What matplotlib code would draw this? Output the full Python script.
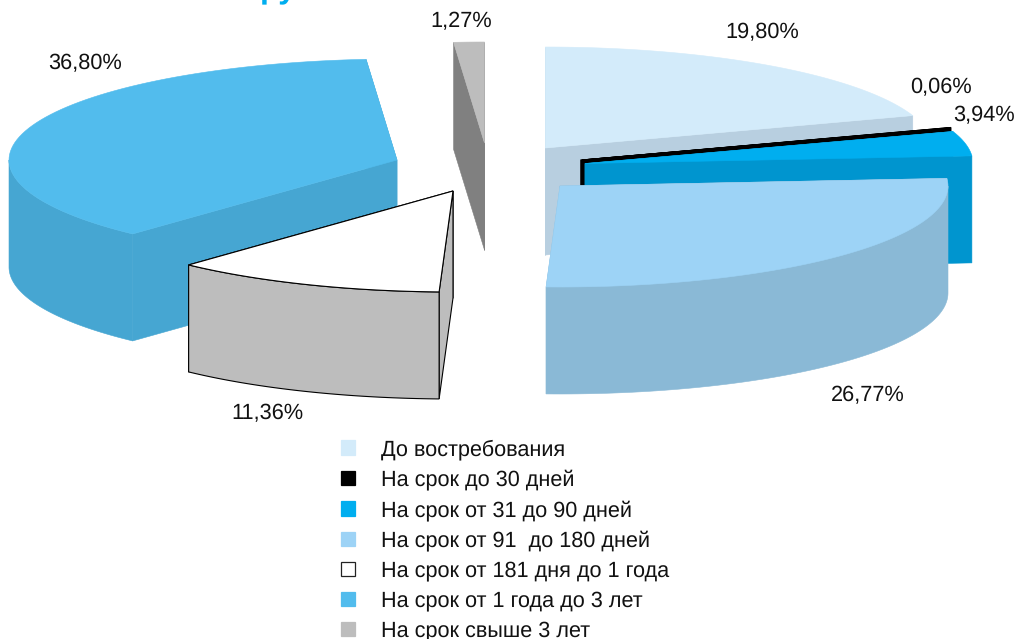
import numpy as np
import matplotlib
matplotlib.use("Agg")
import matplotlib.pyplot as plt
from matplotlib.patches import Polygon, Patch

categories = ["До востребования", "На срок до 30 дней", "На срок от 31 до 90 дней",
              "На срок от 91  до 180 дней", "На срок от 181 дня до 1 года",
              "На срок от 1 года до 3 лет", "На срок свыше 3 лет"]
shares = [19.80, 0.06, 3.94, 26.77, 11.36, 36.80, 1.27]
value_labels = ["19,80%", "0,06%", "3,94%", "26,77%", "11,36%", "36,80%", "1,27%"]

top_colors = ["#d3ebfa", "#000000", "#00aeef", "#9dd3f6", "#ffffff", "#52bced", "#bdbdbd"]
side_colors = ["#b8cfe0", "#000000", "#0095cf", "#8ab9d6", "#bdbdbd", "#46a6d2", "#808080"]
# Exploded position of every slice's apex (pixels)
apexes = [(545.3, 148), (582, 161), (585, 163.5), (560, 186), (453, 191), (397, 160), (484.5, 143)]
label_xy = [(762, 32.5), (941, 87), (984, 115), (868, 395.5), (267, 414), (85, 63.5), (461, 21.5)]
draw_order = [0, 1, 2, 3, 6, 5, 4]

RX, RY, DEPTH = 388, 101, 107
FS = 15.7
LEGEND_FS = 15.6

plt.rcParams["font.family"] = ["Liberation Sans", "DejaVu Sans"]
plt.rcParams["text.hinting"] = "none"
fig = plt.figure(figsize=(10.18, 6.39), dpi=100)
ax = fig.add_axes([0, 0, 1, 1])
ax.set_xlim(0, 1018)
ax.set_ylim(639, 0)
ax.axis("off")

angles = 90 - np.cumsum([0] + shares) * 3.6


def rim(c, t0, t1, n=80):
    t = np.radians(np.linspace(t0, t1, n))
    return np.column_stack([c[0] + RX * np.cos(t), c[1] - RY * np.sin(t)])


for i in draw_order:
    c = np.array(apexes[i], float)
    a0, a1 = angles[i], angles[i + 1]
    top = rim(c, a0, a1)
    outlined = i == 4
    black = i == 1
    ec = "black" if outlined or black else None
    lw = 0.8 if outlined else (2.2 if black else 0.4)
    down = np.array([0, DEPTH])
    # radial cut faces, the rear one first
    for pt in (top[-1], top[0]):
        quad = np.array([c, pt, pt + down, c + down])
        ax.add_patch(Polygon(quad, closed=True, fc=side_colors[i],
                             ec=ec or side_colors[i], lw=lw, joinstyle="miter"))
    # visible outer rim (front half of the ellipse only)
    lo, hi = max(a1, -180), min(a0, 0)
    if hi > lo:
        r = rim(c, hi, lo)
        ax.add_patch(Polygon(np.vstack([r, r[::-1] + down]), closed=True, fc=side_colors[i],
                             ec=ec or side_colors[i], lw=lw))
    # top surface
    ax.add_patch(Polygon(np.vstack([c, top]), closed=True, fc=top_colors[i],
                         ec=ec or top_colors[i], lw=lw,
                         joinstyle="bevel" if black else "miter"))

for txt, (x, y) in zip(value_labels, label_xy):
    ax.text(x, y, txt, fontsize=FS, ha="center", va="center", color="#111111")

# Descenders of the cropped heading at the top edge
ax.text(260, -3, "ру", fontsize=23, fontweight="bold", color="#00aeef", ha="left", va="baseline")

handles = [Patch(fc=t, ec="#222222" if t == "#ffffff" else t, lw=0.9) for t in top_colors]
leg = ax.legend(handles, categories, loc="upper left", bbox_to_anchor=(341 / 1018, 1 - 439 / 639),
                frameon=False, fontsize=LEGEND_FS, handlelength=0.65, handleheight=0.65,
                handletextpad=1.2, labelspacing=0.44, borderpad=0, borderaxespad=0,
                labelcolor="#111111")

fig.savefig("out.png", dpi=100)
